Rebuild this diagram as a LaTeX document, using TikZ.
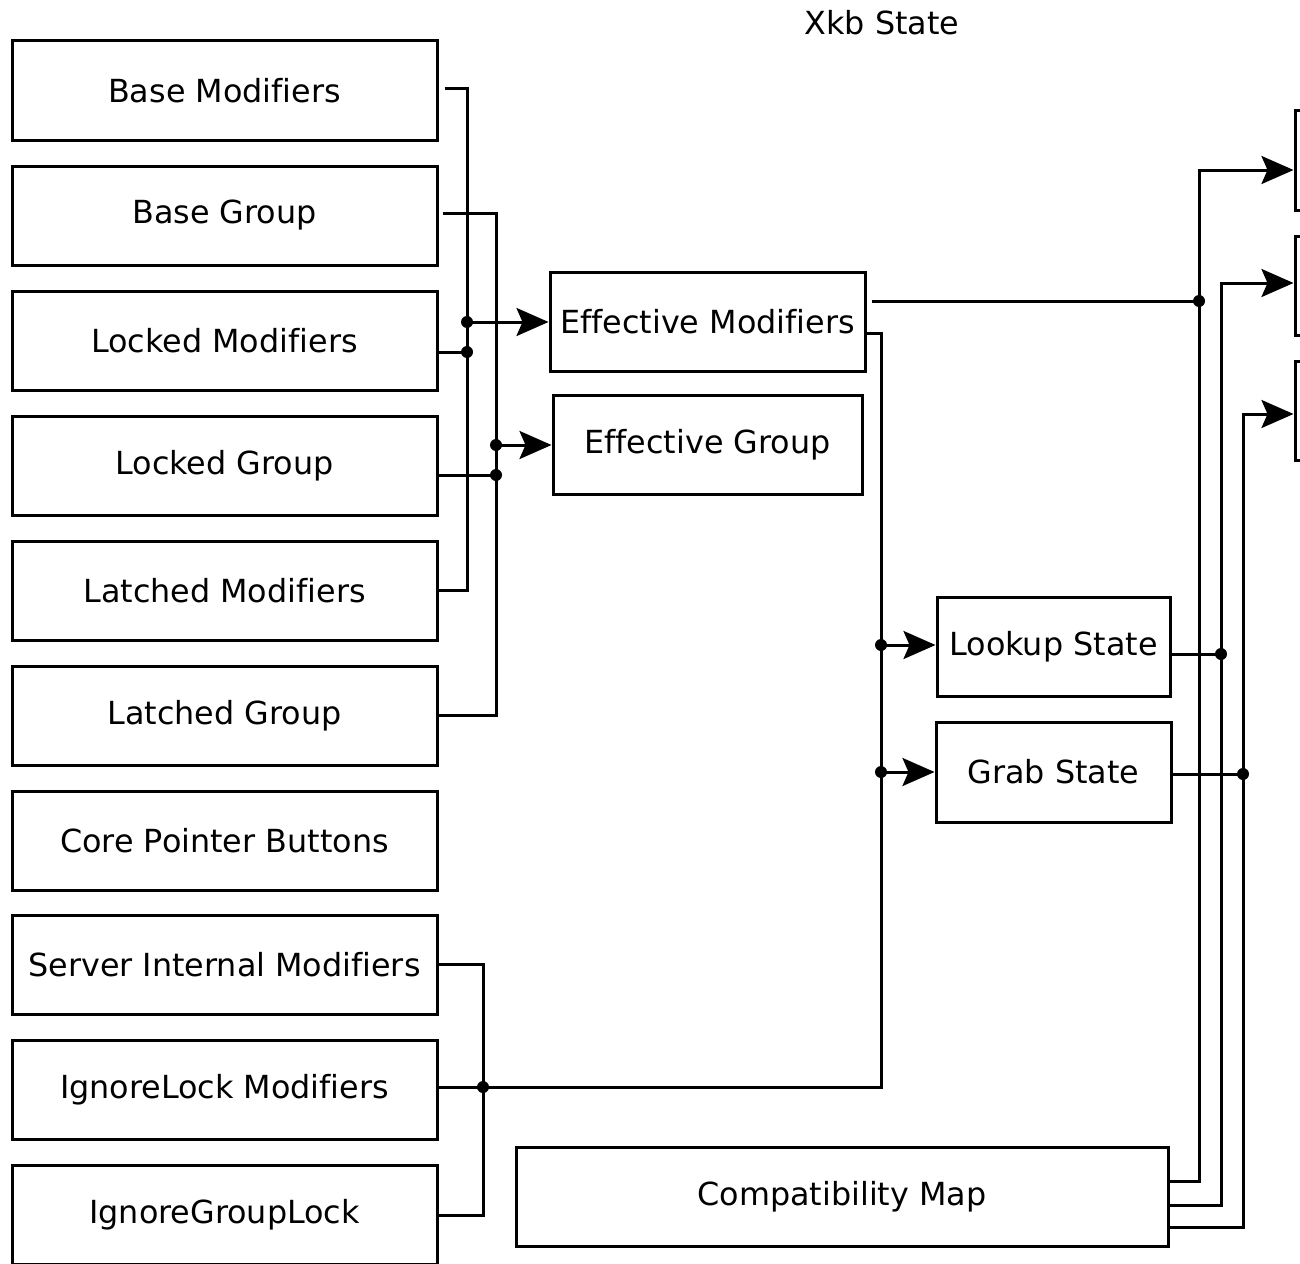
\documentclass[tikz,border=0pt]{standalone}
\usepackage{fontspec}
\setmainfont[Ligatures=NoCommon]{DejaVu Sans}
\usetikzlibrary{arrows.meta,calc}
\begin{document}
\begin{tikzpicture}[x=0.5pt,y=-0.5pt,
  every node/.style={font=\fontsize{15.9pt}{19pt}\selectfont},
  box/.style={draw,line width=1.5pt,minimum height=49.5pt,inner sep=2pt},
  lbox/.style={box,minimum width=212.5pt},
  wire/.style={line width=1.5pt},
  arr/.style={wire,-{Stealth[length=16pt,width=14pt,inset=3pt]}},
  dotc/.style={radius=3pt}]
\useasboundingbox (0,0) rectangle (1300,1263);
\clip (0,0) rectangle (1300,1263);
\fill[white] (0,0) rectangle (1300,1263);

\node (title) at (882,23) {Xkb State};

% left column
\node[lbox] (bm)   at (224.5,90.5)  {Base Modifiers};
\node[lbox] (bg)   at (224.5,215.5) {Base Group};
\node[lbox] (lm)   at (224.5,340.5) {Locked Modifiers};
\node[lbox] (lg)   at (224.5,465.5) {Locked Group};
\node[lbox] (latm) at (224.5,590.5) {Latched Modifiers};
\node[lbox] (latg) at (224.5,715.5) {Latched Group};
\node[lbox] (cpb)  at (224.5,840.5) {Core Pointer Buttons};
\node[lbox] (sim)  at (224.5,964.5) {Server Internal Modifiers};
\node[lbox] (ilm)  at (224.5,1089.5) {IgnoreLock Modifiers};
\node[lbox] (igl)  at (224.5,1214.5) {IgnoreGroupLock};

% middle
\node[box,minimum width=157.5pt] (em) at (707.5,321.5) {Effective Modifiers};
\node[box,minimum width=154.5pt] (eg) at (707.5,444.5) {Effective Group};
\node[box,minimum width=116.5pt] (ls) at (1053.5,646.5) {Lookup State};
\node[box,minimum width=117.5pt,minimum height=50pt] (gs) at (1053.5,772) {Grab State};
\node[box,minimum width=326pt] (cm) at (842,1196.5) {Compatibility Map};

% right (cut off)
\node[box,minimum width=100pt] (r1) at (1395,160.5) {};
\node[box,minimum width=100pt] (r2) at (1395,285.5) {};
\node[box,minimum width=100pt] (r3) at (1395,410.5) {};

% junctions
\coordinate (jM1) at (467,322);
\coordinate (jM2) at (467,352);
\coordinate (jG1) at (496,445);
\coordinate (jG2) at (496,475);
\coordinate (jE)  at (1199,301);
\coordinate (jL)  at (881,645);
\coordinate (jGr) at (881,772);
\coordinate (jI)  at (483,1087);
\coordinate (jLo) at (1221,654);
\coordinate (jGo) at (1243,774);

% modifier bus
\draw[wire] ($(bm.east)+(6,-1.5)$) -| (jM1) -- (jM2) |- (latm.east);
\draw[wire] (lm.east |- jM2) -- (jM2);
\draw[arr] (jM1) -- (em.west |- jM1);
% group bus
\draw[wire] ($(bg.east)+(4,-2.5)$) -| (jG1) -- (jG2) |- (latg.east);
\draw[wire] (lg.east |- jG2) -- (jG2);
\draw[arr] (jG1) -- (eg.west |- jG1);

% effective modifiers outputs
\draw[wire] ($(em.east)+(5,-20.5)$) -- (jE);
\draw[wire] ($(em.east)+(0,11.5)$) -| (jL) -- (jGr) |- (jI);
\draw[arr] (jL) -- (ls.west |- jL);
\draw[arr] (jGr) -- (gs.west |- jGr);

% server internal bus
\draw[wire] (sim.east) -| (jI) |- ($(igl.east)+(-2,0.5)$);
\draw[wire] (ilm.east |- jI) -- (jI);

% compatibility map buses
\draw[arr] ($(cm.east)+(0,-15.5)$) -| (jE) |- ($(r1.west)+(0,9.5)$);
\draw[arr] ($(cm.east)+(0,8.5)$) -| (jLo) |- ($(r2.west)+(0,-2.5)$);
\draw[arr] ($(cm.east)+(0,30.5)$) -| (jGo) |- ($(r3.west)+(0,3.5)$);
\draw[wire] (ls.east |- jLo) -- (jLo);
\draw[wire] (gs.east |- jGo) -- (jGo);

% dots
\foreach \c in {jM1,jM2,jG1,jG2,jE,jL,jGr,jI,jLo,jGo}
  \fill (\c) circle[dotc];
\end{tikzpicture}
\end{document}
